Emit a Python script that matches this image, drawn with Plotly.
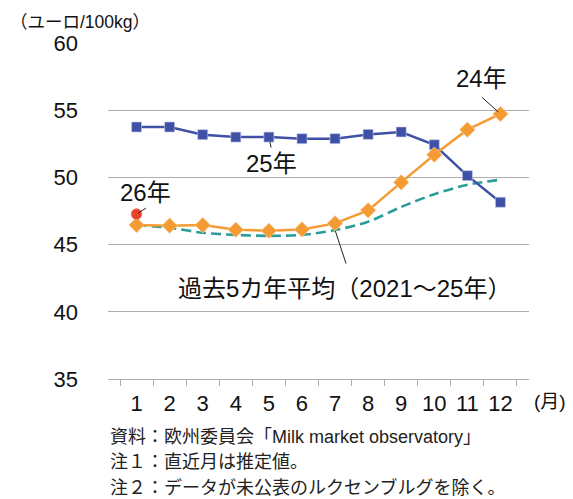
import plotly.graph_objects as go

months = ["1", "2", "3", "4", "5", "6", "7", "8", "9", "10", "11", "12"]
y2025 = [53.75, 53.75, 53.18, 53.0, 53.0, 52.88, 52.88, 53.2, 53.38, 52.43, 50.13, 48.15]
y2024 = [46.46, 46.41, 46.45, 46.11, 46.03, 46.13, 46.58, 47.55, 49.63, 51.69, 53.55, 54.72]
avg5 = [46.45, 46.25, 45.88, 45.72, 45.65, 45.72, 46.08, 46.7, 47.8, 48.75, 49.45, 49.83]
y2026 = [47.27]

NUM_FONT = "Liberation Sans, Noto Sans CJK JP, sans-serif"
JP_FONT = "Liberation Sans, Noto Sans CJK JP, sans-serif"

BLUE = "#3F51A6"
ORANGE = "#F49B33"
TEAL = "#2A9D98"
RED = "#E8412C"
GRID = "#AEAEAE"

fig = go.Figure()
fig.add_trace(go.Scatter(x=months, y=avg5, mode="lines",
                         line=dict(color=TEAL, width=2.6, dash="10px,5px", shape="spline", smoothing=0.8),
                         hoverinfo="skip"))
fig.add_trace(go.Scatter(x=months, y=y2025, mode="lines+markers", line=dict(color=BLUE, width=2.5),
                         marker=dict(symbol="square", size=10, color=BLUE, line=dict(color="#C8CCE8", width=0.6))))
fig.add_trace(go.Scatter(x=months, y=y2024, mode="lines+markers", line=dict(color=ORANGE, width=2.5),
                         marker=dict(symbol="diamond", size=12, color=ORANGE, line=dict(color="#FBD9B0", width=0.6))))
fig.add_trace(go.Scatter(x=months[:1], y=y2026, mode="markers",
                         marker=dict(symbol="circle", size=11, color=RED, line=dict(color="#F4A79A", width=0.6))))

# page body has an 8px margin: figure is shrunk and margins shifted to compensate
fig.update_layout(
    width=565, height=491,
    margin=dict(l=100, r=44, t=35, b=120, autoexpand=False),
    paper_bgcolor="white", plot_bgcolor="white",
    showlegend=False,
    font=dict(family=NUM_FONT, color="#111111"),
)
fig.update_xaxes(type="category", showgrid=False, showline=True, linecolor=GRID, linewidth=1,
                 ticks="outside", tickson="boundaries", ticklen=6, tickcolor=GRID, tickwidth=1,
                 tickangle=0, automargin=False,
                 tickfont=dict(family=NUM_FONT, size=22, color="#111111"), ticklabelstandoff=5)
fig.update_yaxes(range=[35, 60], dtick=5, showgrid=True, gridcolor=GRID, gridwidth=1, zeroline=False,
                 showline=False, ticks="", automargin=False,
                 tickfont=dict(family=NUM_FONT, size=22, color="#111111"),
                 ticklabelstandoff=29)

# labels
fig.add_annotation(x=10.44, y=57.34, xref="x", yref="y", text="24年", showarrow=False,
                   font=dict(family=NUM_FONT, size=24, color="#111111"))
fig.add_annotation(x=4.07, y=51.07, xref="x", yref="y", text="25年", showarrow=False,
                   font=dict(family=NUM_FONT, size=24, color="#111111"))
fig.add_annotation(x=0.27, y=48.84, xref="x", yref="y", text="26年", showarrow=False,
                   font=dict(family=NUM_FONT, size=24, color="#111111"))
fig.add_annotation(x=6.29, y=41.73, xref="x", yref="y", text="過去5カ年平均（2021～25年）", showarrow=False,
                   font=dict(family=NUM_FONT, size=24, color="#111111"))

# leader lines
def leader(xi, yv, ax, ay, standoff):
    fig.add_annotation(x=xi, y=yv, xref="x", yref="y", text="", showarrow=True, arrowhead=0,
                       arrowwidth=1, arrowcolor="#222222", ax=ax, ay=ay, standoff=standoff)

leader(11, y2024[11], -20, -18, 3)
leader(4, y2025[4], 2.5, 12, 5)
leader(0, y2026[0], 11, -7, 2)
leader(6, avg5[6], 11.5, 35, 1)

# axis titles
fig.add_annotation(x=-0.2375, y=1.0634, xref="paper", yref="paper", xanchor="left", yanchor="middle",
                   text="（ユーロ/100kg）", showarrow=False, font=dict(family=JP_FONT, size=17.5, color="#111111"))
fig.add_annotation(x=1.050, y=-0.0676, xref="paper", yref="paper", xanchor="center", yanchor="middle",
                   text="(月)", showarrow=False, font=dict(family=JP_FONT, size=19, color="#111111"))

notes = ["資料：欧州委員会「Milk market observatory」", "注１：直近月は推定値。", "注２：データが未公表のルクセンブルグを除く。"]
for i, t in enumerate(notes):
    fig.add_annotation(x=0, y=-0.1726 - 0.0745 * i, xref="paper", yref="paper", xanchor="left", yanchor="middle",
                       text=t, showarrow=False, font=dict(family=JP_FONT, size=18, color="#222222"))

fig.write_html("out.html")
